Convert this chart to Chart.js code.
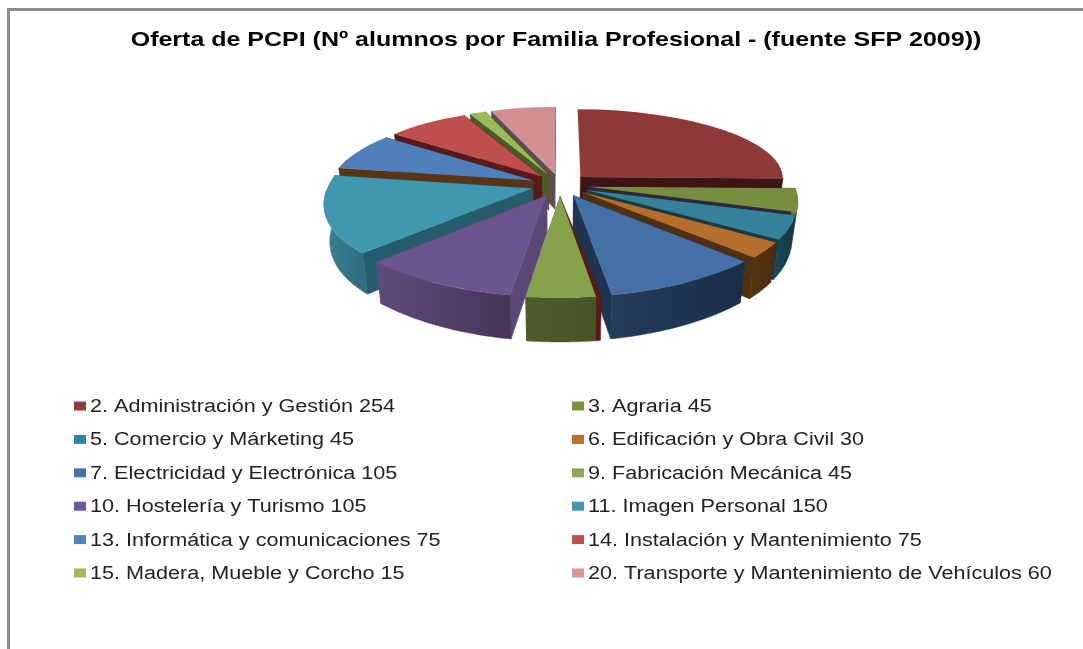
<!DOCTYPE html>
<html lang="es">
<head>
<meta charset="utf-8">
<title>Oferta de PCPI</title>
<script src="https://cdn.jsdelivr.net/npm/chart.js@4"></script>
<style>
html,body{margin:0;padding:0;background:#fff;overflow:hidden}
#frame{position:absolute;left:7px;top:8px;right:0;bottom:0;border-left:3px solid #8c8c8c;border-top:3px solid #8c8c8c}
#c{position:absolute;left:0;top:0}
</style>
</head>
<body>
<div id="frame"></div>
<canvas id="c" width="1083" height="649"></canvas>
<script>
const chartTitle = 'Oferta de PCPI (Nº alumnos por Familia Profesional - (fuente SFP 2009))';
const categories = [
  '2. Administración y Gestión','3. Agraria','5. Comercio y Márketing','6. Edificación y Obra Civil',
  '7. Electricidad y Electrónica','9. Fabricación Mecánica','10. Hostelería y Turismo','11. Imagen Personal',
  '13. Informática y comunicaciones','14. Instalación y Mantenimiento','15. Madera, Mueble y Corcho',
  '20. Transporte y Mantenimiento de Vehículos'
];
const values = [254,45,45,30,105,45,105,150,75,75,15,60];
const topColors = ['#8E3A38','#758E40','#35819A','#B66E2F','#4470A7','#86A34B','#6E548E','#3F97B0','#4F80BD','#BF4F4C','#9BBB59','#D09090'];
const legendColors = ['#953735','#77933C','#31859C','#BB7030','#4672A8','#8DA850','#7554A0','#4198AF','#4F81BD','#C0504D','#9BBB59','#D99694'];
const wallLight = ['#4a1c1c','#5f7534','#1a4450','#55330F','#243C5C','#4D5C2A','#5F4B7C','#3A8296','#2C4A70','#6A2A28','#566830','#6a4f50'];
const wallDark  = ['#3E1414','#4e6029','#123840','#4B2D12','#1A2E46','#485626','#473658','#2F6E80','#22395a','#5A1A1A','#4A5A28','#5b4648'];
const sideStart = [null,'#3a2a3a','#153C46','#4F3012','#1E3552','#4B5A28','#5B4776','#265C6C','#5A3414','#5A1A1A','#4A5A28','#5F4C50'];
const sideEnd   = ['#3E1414','#32263A','#153C46','#4F3012','#1E3552','#4B5A28','#5B4776','#265C6C','#1E3552','#5A1A1A','#4A5A28','#5B4648'];

const view = {cx:560, cy:185, squash:81, persp:0.16, explode:29, depth:36, lean:0.025};
const sliver = {slice:5, angle:0.022, color:'#5A1A1A'};
const titleStretch = 1.19, legendStretch = 1.2;

function project(u, v, R){
  const vn = v / R, k = 1 / (1 - view.persp * vn);
  return {x: view.cx + u * k, y: view.cy + vn * view.squash * k};
}
function sliceGeometry(arc){
  const R = arc.outerRadius, A = arc.startAngle, B = arc.endAngle, mid = (A + B) / 2;
  const ex = Math.cos(mid) * view.explode, ey = Math.sin(mid) * view.explode;
  const a1 = [R*Math.cos(A), R*Math.sin(A)], b1 = [R*Math.cos(B), R*Math.sin(B)];
  const O = project(ex, ey, R), PA = project(ex+a1[0], ey+a1[1], R), PB = project(ex+b1[0], ey+b1[1], R);
  const a2 = [PA.x-O.x, PA.y-O.y], b2 = [PB.x-O.x, PB.y-O.y];
  const det = a1[0]*b1[1] - b1[0]*a1[1];
  const m11 = (a2[0]*b1[1]-b2[0]*a1[1])/det, m12 = (b2[0]*a1[0]-a2[0]*b1[0])/det;
  const m21 = (a2[1]*b1[1]-b2[1]*a1[1])/det, m22 = (b2[1]*a1[0]-a2[1]*b1[0])/det;
  const pt = (gx, gy) => ({x:O.x+m11*gx+m12*gy, y:O.y+m21*gx+m22*gy, k:1/(1-view.persp*(ey+gy)/R)});
  const rim = t => pt(R*Math.cos(t), R*Math.sin(t));
  const low = p => ({x: view.cx+(p.x-view.cx)*(1-view.lean), y: p.y+view.depth*p.k});
  return {A,B,mid,pt,rim,low,matrix:[m11,m21,m12,m22,O.x-m11*arc.x-m12*arc.y,O.y-m21*arc.x-m22*arc.y]};
}
function fillPoly(ctx, pts, style){
  ctx.beginPath();
  pts.forEach((p,i)=> i ? ctx.lineTo(p.x,p.y) : ctx.moveTo(p.x,p.y));
  ctx.closePath();
  ctx.fillStyle = style;
  ctx.strokeStyle = style;
  ctx.lineWidth = 0.5;
  ctx.fill();
  ctx.stroke();
}
const pie3d = {
  id:'pie3d',
  beforeDraw(chart){
    const ctx = chart.ctx, c = chart.getDatasetMeta(0).data[0].x;
    ctx.save();
    ctx.translate(c,0);
    ctx.scale(titleStretch,1);
    ctx.translate(-c,0);
  },
  beforeDatasetDraw(chart, args){
    const ctx = chart.ctx;
    ctx.restore();
    const arcs = chart.getDatasetMeta(args.index).data;
    const order = arcs.map((arc,i)=>({arc,i,g:sliceGeometry(arc)}))
      .sort((a,b)=>Math.sin(a.g.mid)-Math.sin(b.g.mid));
    order.forEach(({arc,i,g})=>{
      const o = g.pt(0,0), oLow = g.low(o);
      [[g.A,sideStart[i]],[g.B,sideEnd[i]]]
        .sort((a,b)=>g.rim(a[0]).y-g.rim(b[0]).y)
        .forEach(([t,col])=>{
          if(!col) return;
          const p = g.rim(t);
          fillPoly(ctx,[o,p,g.low(p),oLow],col);
        });
      if(i===sliver.slice){
        const p = g.rim(g.A), q = g.rim(g.A-sliver.angle);
        fillPoly(ctx,[o,q,g.low(q),g.low(p),p],sliver.color);
      }
      const t0 = Math.max(g.A,0), t1 = Math.min(g.B,Math.PI);
      if(t1>t0){
        const top=[],bottom=[];
        for(let s=0;s<=36;s++){
          const p=g.rim(t0+(t1-t0)*s/36);
          top.push(p);bottom.unshift(g.low(p));
        }
        const xs=top.map(p=>p.x), grad=ctx.createLinearGradient(Math.min(...xs),0,Math.max(...xs),0);
        grad.addColorStop(0,wallLight[i]);grad.addColorStop(1,wallDark[i]);
        fillPoly(ctx,top.concat(bottom),grad);
      }
      ctx.save();
      ctx.transform(...g.matrix);
      arc.draw(ctx);
      ctx.restore();
    });
    return false;
  },
  afterDraw(chart){
    const ctx = chart.ctx;
    ctx.save();
    ctx.font = '18px "Liberation Sans"';
    ctx.textBaseline = 'middle';
    ctx.textAlign = 'left';
    categories.forEach((name,i)=>{
      const col = i%2, row = Math.floor(i/2);
      const x = col ? 572 : 74, y = 407 + row*33.4;
      ctx.fillStyle = legendColors[i];
      ctx.fillRect(x,y-5.5,12,9);
      ctx.fillStyle = '#222';
      ctx.save();
      ctx.translate(x+16,y);
      ctx.scale(legendStretch,1);
      ctx.fillText(name+' '+values[i],0,0);
      ctx.restore();
    });
    ctx.restore();
  }
};
new Chart(document.getElementById('c'),{
  type:'pie',
  data:{labels:categories,datasets:[{data:values,backgroundColor:topColors,borderWidth:0,radius:205,clip:false}]},
  plugins:[pie3d],
  options:{
    responsive:false,animation:false,events:[],
    layout:{padding:{left:29,bottom:339}},
    plugins:{
      legend:{display:false},
      tooltip:{enabled:false},
      title:{display:true,text:chartTitle,color:'#000',
        font:{family:'"Liberation Sans"',size:21,weight:'bold'},
        padding:{top:28,bottom:10}}
    }
  }
});
</script>
</body>
</html>
